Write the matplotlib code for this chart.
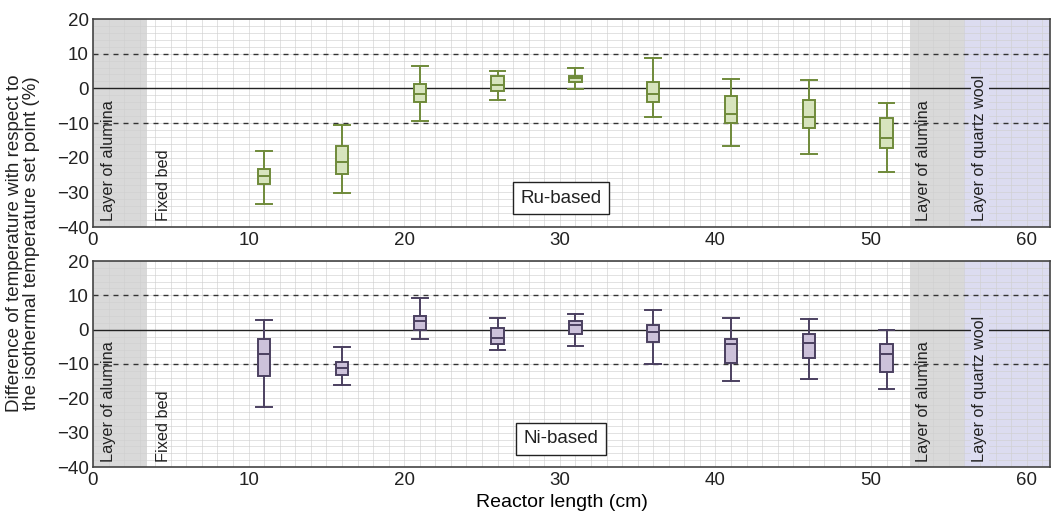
import numpy as np
import matplotlib.pyplot as plt
from matplotlib.ticker import MultipleLocator

plt.rcParams['font.family'] = ['Liberation Sans', 'DejaVu Sans']
plt.rcParams['text.color'] = '#222222'
plt.rcParams['xtick.color'] = '#222222'
plt.rcParams['ytick.color'] = '#222222'

positions = [11, 16, 21, 26, 31, 36, 41, 46, 51]

# Ru-based catalyst: whisker low, q1, median, q3, whisker high
ru_whislo = [-33.5, -30.2, -9.5, -3.3, -0.3, -8.4, -16.5, -18.8, -24.1]
ru_q1 = [-27.7, -24.7, -4.0, -0.8, 1.9, -4.0, -10.0, -11.3, -17.3]
ru_med = [-25.3, -21.3, -1.6, 1.1, 2.9, -1.6, -7.3, -8.4, -14.3]
ru_q3 = [-23.4, -16.7, 1.2, 3.5, 3.7, 1.9, -2.2, -3.4, -8.7]
ru_whishi = [-18.1, -10.7, 6.5, 5.0, 5.9, 8.8, 2.7, 2.4, -4.3]

# Ni-based catalyst
ni_whislo = [-22.4, -16.0, -2.7, -5.8, -4.9, -9.9, -15.0, -14.4, -17.2]
ni_q1 = [-13.4, -13.3, -0.1, -4.2, -1.3, -3.5, -9.6, -8.3, -12.3]
ni_med = [-7.2, -11.3, 2.5, -2.5, 1.3, -0.7, -4.3, -3.8, -7.1]
ni_q3 = [-2.8, -9.3, 3.9, 0.4, 2.4, 1.5, -2.8, -1.4, -4.2]
ni_whishi = [2.9, -5.0, 9.3, 3.5, 4.7, 5.8, 3.4, 3.2, -0.2]

alumina_in = (0, 3.5)
alumina_out = (52.5, 56)
quartz_wool = (56, 62)


def draw_panel(ax, lo, q1, med, q3, hi, fill, edge, name):
    ax.set_xlim(0, 61.5)
    ax.set_ylim(-40, 20)
    ax.axvspan(*alumina_in, color='#d9d9d9', zorder=0, lw=0)
    ax.axvspan(*alumina_out, color='#d9d9d9', zorder=0, lw=0)
    ax.axvspan(*quartz_wool, color='#dcdcf0', zorder=0, lw=0)

    ax.xaxis.set_major_locator(MultipleLocator(10))
    ax.xaxis.set_minor_locator(MultipleLocator(1))
    ax.yaxis.set_major_locator(MultipleLocator(10))
    ax.yaxis.set_minor_locator(MultipleLocator(2))
    ax.grid(which='both', color='#cfcfcf', lw=0.6, alpha=0.7, zorder=1)
    ax.set_axisbelow(True)
    ax.tick_params(which='both', length=0, labelsize=13.5)
    ax.tick_params(axis='x', pad=3.5)
    ax.tick_params(axis='y', pad=3)

    ax.axhline(0, color='#222222', lw=1.0, zorder=2)
    ax.axhline(10, color='#333333', lw=1.0, ls=(0, (3.6, 3.6)), zorder=2)
    ax.axhline(-10, color='#333333', lw=1.0, ls=(0, (3.6, 3.6)), zorder=2)

    stats = []
    for i in range(len(positions)):
        stats.append(dict(whislo=lo[i], q1=q1[i], med=med[i], q3=q3[i],
                          whishi=hi[i], fliers=[]))
    ax.bxp(stats, positions=positions, widths=0.8, capwidths=1.0,
           patch_artist=True, manage_ticks=False, showfliers=False,
           boxprops=dict(facecolor=fill, edgecolor=edge, lw=1.4),
           medianprops=dict(color=edge, lw=1.4),
           whiskerprops=dict(color=edge, lw=1.4),
           capprops=dict(color=edge, lw=1.4), zorder=4)

    ax.set_xticks([0, 10, 20, 30, 40, 50, 60])

    tkw = dict(rotation=90, ha='center', va='bottom', fontsize=11.7, zorder=3)
    ax.text(1.0, -38.4, 'Layer of alumina', **tkw)
    ax.text(4.5, -38.4, 'Fixed bed', **tkw)
    ax.text(53.4, -38.4, 'Layer of alumina', **tkw)
    ax.text(57.0, -38.4, 'Layer of quartz wool',
            bbox=dict(facecolor='#dcdcf0', edgecolor='none', pad=1), **tkw)

    ax.text(30.1, -31.7, name, ha='center', va='center', fontsize=13.5, zorder=5,
            bbox=dict(facecolor='white', edgecolor='#222222', lw=1.0,
                      boxstyle='square,pad=0.4'))
    for sp in ax.spines.values():
        sp.set_color('#444444')
        sp.set_linewidth(1.2)


fig = plt.figure(figsize=(10.52, 5.15), dpi=100)
ax1 = fig.add_axes([93 / 1052, 1 - 227 / 515, (1050 - 93) / 1052, 208 / 515])
ax2 = fig.add_axes([93 / 1052, 1 - 467 / 515, (1050 - 93) / 1052, 206 / 515])

draw_panel(ax1, ru_whislo, ru_q1, ru_med, ru_q3, ru_whishi,
           '#d7e4bd', '#6f8a3a', 'Ru-based')
draw_panel(ax2, ni_whislo, ni_q1, ni_med, ni_q3, ni_whishi,
           '#ccc1da', '#4b4060', 'Ni-based')

ax2.set_xlabel('Reactor length (cm)', fontsize=14)
ax2.xaxis.set_label_coords(0.49, -0.13)
fig.text(0.022, 0.528, 'Difference of temperature with respect to\n'
         'the isothermal temperature set point (%)',
         rotation=90, ha='center', va='center', fontsize=13.5,
         linespacing=0.95)

fig.savefig('out.png', dpi=100)
